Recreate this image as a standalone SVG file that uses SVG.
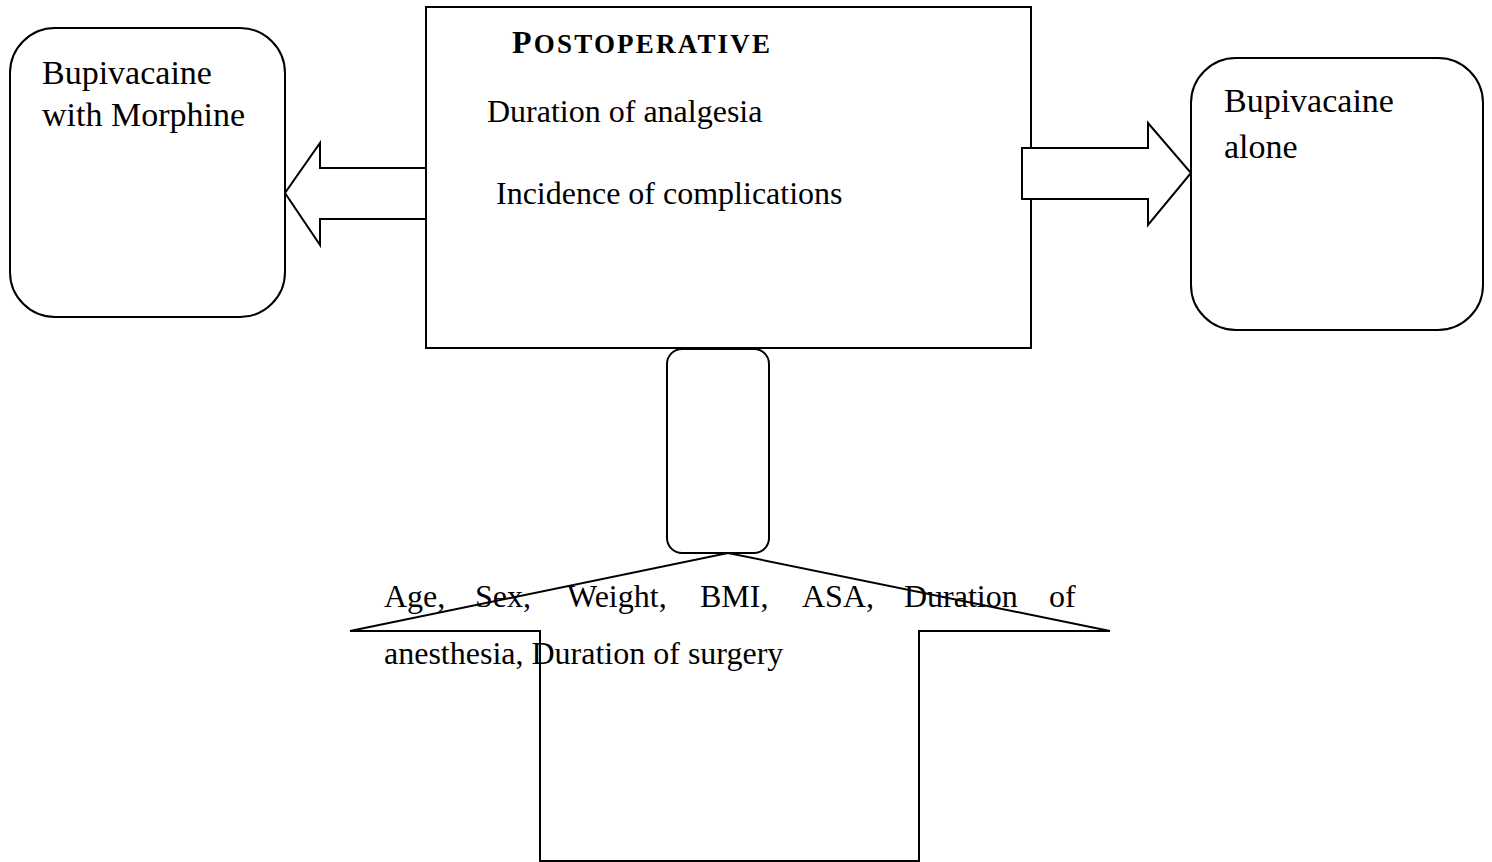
<svg xmlns="http://www.w3.org/2000/svg" width="1492" height="862" viewBox="0 0 1492 862">
<style>
.s{fill:#fff;stroke:#000;stroke-width:2}
.t{font-family:"Liberation Serif","Times New Roman",serif;fill:#000}
.side{font-size:34px}
.mid{font-size:32px}
.ttl{font-weight:bold}
</style>
<rect width="1492" height="862" fill="#fff"/>
<g id="postoperative">
<rect class="s" x="426" y="7" width="605" height="341"/>
<text class="t ttl" x="512" y="53" letter-spacing="2.2"><tspan font-size="32">P</tspan><tspan font-size="27">OSTOPERATIVE</tspan></text>
<text class="t mid" x="487" y="122">Duration of analgesia</text>
<text class="t mid" x="496" y="204">Incidence of complications</text>
</g>
<g id="connectors">
<polygon class="s" points="426,168 320,168 320,143 285,193 320,245 320,219 426,219"/>
<polygon class="s" points="1022,148 1148,148 1148,123 1191,173 1148,225 1148,199 1022,199"/>
<polygon class="s" points="540,861 540,631 350,631 728,553 1110,631 919,631 919,861"/>
</g>
<g id="bupi-morphine">
<rect class="s" x="10" y="28" width="275" height="289" rx="45"/>
<text class="t side" x="42" y="84">Bupivacaine</text>
<text class="t side" x="42" y="126">with Morphine</text>
</g>
<g id="bupi-alone">
<rect class="s" x="1191" y="58" width="292" height="272" rx="45"/>
<text class="t side" x="1224" y="112">Bupivacaine</text>
<text class="t side" x="1224" y="158">alone</text>
</g>
<g id="link">
<rect class="s" x="667" y="349" width="102" height="204" rx="15"/>
</g>
<g id="factors">
<text class="t mid" y="607"><tspan x="384">Age,</tspan><tspan x="475">Sex,</tspan><tspan x="567">Weight,</tspan><tspan x="700">BMI,</tspan><tspan x="802">ASA,</tspan><tspan x="904">Duration</tspan><tspan x="1049">of</tspan></text>
<text class="t mid" x="384" y="664">anesthesia, Duration of surgery</text>
</g>
</svg>
